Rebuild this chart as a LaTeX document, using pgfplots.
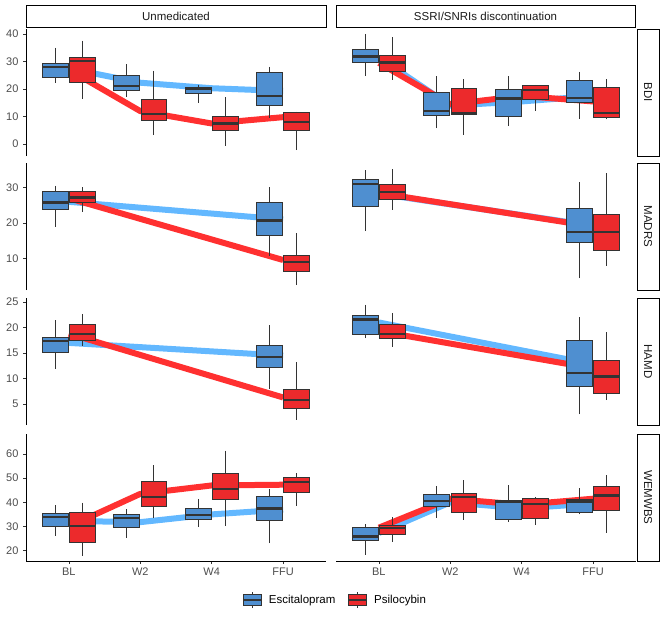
\documentclass[border=0pt]{standalone}
\usepackage{fontspec}
\setmainfont{Liberation Sans}
\usepackage{pgfplots}
\pgfplotsset{compat=1.18}
\usepgfplotslibrary{statistics}
\definecolor{boxblue}{HTML}{4F8FD0}
\definecolor{boxred}{HTML}{EC2A2C}
\definecolor{lineblue}{HTML}{63B8FF}
\definecolor{linered}{HTML}{FF3030}
\definecolor{outl}{HTML}{333333}
\definecolor{tickgray}{HTML}{4D4D4D}
\definecolor{stripgray}{HTML}{1A1A1A}

% box: draw position, lower whisker, lower quartile, median, upper quartile, upper whisker
\newcommand{\bxb}[6]{\addplot[boxplot prepared={draw position=#1, lower whisker=#2, lower quartile=#3, median=#4, upper quartile=#5, upper whisker=#6, box extend=0.36, whisker extend=0}, fill=boxblue, draw=outl, line width=0.9bp] coordinates {};}
\newcommand{\bxr}[6]{\addplot[boxplot prepared={draw position=#1, lower whisker=#2, lower quartile=#3, median=#4, upper quartile=#5, upper whisker=#6, box extend=0.36, whisker extend=0}, fill=boxred, draw=outl, line width=0.9bp] coordinates {};}

\pgfplotsset{
  panel/.style={scale only axis, width=300bp, height=127bp, xmin=0.4, xmax=4.6, clip=false,
    boxplot/draw direction=y,
    boxplot/every median/.style={line width=2.3bp},
    tick label style={font=\fontsize{11bp}{13bp}\selectfont, text=tickgray},
    yticklabel style={xshift=-1bp},
    /pgf/number format/assume math mode=true,
    major tick length=3bp, tick style={outl, line width=0.6bp},
    axis line style={black, line width=0.7bp}, tick align=outside,
    xtick={1,2,3,4}, xticklabels={BL,W2,W4,FFU}},
  lefttop/.style={panel, axis y line*=left, axis x line=none},
  leftbot/.style={panel, axis y line*=left, axis x line*=bottom},
  righttop/.style={panel, hide axis},
  rightbot/.style={panel, axis y line=none, axis x line*=bottom},
  mline/.style={line width=6bp, line join=round},
}

\begin{document}
\begin{tikzpicture}
\useasboundingbox (0,0) rectangle (664bp,-618bp);

% ---------------- Row 1: BDI ----------------
\begin{axis}[lefttop, at={(26bp,-29bp)}, anchor=north west, ymin=-4.3, ymax=41.8, ytick={0,10,20,30,40}]
\addplot[mline, lineblue] coordinates {(1,27.5) (2,22.3) (3,20.3) (4,19.3)};
\addplot[mline, linered] coordinates {(1,27) (2,12) (3,7.5) (4,9.8)};
\bxb{0.81}{22.3}{24.2}{28.1}{29.3}{35}
\bxr{1.19}{16.4}{22.5}{30.2}{31.5}{37.6}
\bxb{1.81}{17.2}{19.4}{21.1}{25}{29}
\bxr{2.19}{3.3}{8.5}{10.9}{16.2}{26.7}
\bxb{2.81}{15}{18.4}{19.9}{20.6}{21.3}
\bxr{3.19}{-0.6}{4.8}{7.5}{10.2}{17}
\bxb{3.81}{9.6}{13.9}{17.5}{25.9}{28.1}
\bxr{4.19}{-2.2}{4.8}{8}{11.4}{11.8}
\end{axis}

\begin{axis}[righttop, at={(336bp,-29bp)}, anchor=north west, ymin=-4.3, ymax=41.8]
\addplot[mline, lineblue] coordinates {(1,31.5) (2,14) (3,15.5) (4,17.5)};
\addplot[mline, linered] coordinates {(1,29.5) (2,14.5) (3,17.5) (4,15.5)};
\bxb{0.81}{24.7}{29.8}{31.8}{34.2}{40}
\bxr{1.19}{23.3}{26.5}{29.6}{32.1}{38.8}
\bxb{1.81}{5.7}{10.4}{12.1}{18.9}{24.7}
\bxr{2.19}{3.4}{10.7}{11.2}{20.1}{23.5}
\bxb{2.81}{6.5}{10.1}{16.6}{19.9}{24.6}
\bxr{3.19}{12.1}{16.2}{19.6}{21.2}{21.5}
\bxb{3.81}{9.2}{15}{16.8}{23.3}{26.3}
\bxr{4.19}{9}{9.7}{11.4}{20.5}{23.5}
\end{axis}

% ---------------- Row 2: MADRS ----------------
\begin{axis}[lefttop, at={(26bp,-163bp)}, anchor=north west, ymin=1, ymax=37, ytick={10,20,30}]
\addplot[mline, lineblue] coordinates {(1,26) (4,21)};
\addplot[mline, linered] coordinates {(1,27) (4,9.5)};
\bxb{0.81}{19}{23.7}{25.8}{28.9}{30.6}
\bxr{1.19}{23.2}{25.8}{27.2}{28.9}{30.1}
\bxb{3.81}{10.5}{16.6}{20.7}{25.9}{30.1}
\bxr{4.19}{2.4}{6.2}{9}{10.7}{17.1}
\end{axis}

\begin{axis}[righttop, at={(336bp,-163bp)}, anchor=north west, ymin=1, ymax=37]
\addplot[mline, lineblue] coordinates {(1,28.3) (4,19.2)};
\addplot[mline, linered] coordinates {(1,28.5) (4,19)};
\bxb{0.81}{17.7}{24.6}{31}{32.2}{35}
\bxr{1.19}{23.7}{26.7}{28.8}{31}{35.2}
\bxb{3.81}{4.3}{14.4}{17.5}{24.2}{31.5}
\bxr{4.19}{7.9}{12.2}{17.5}{22.5}{34.1}
\end{axis}

% ---------------- Row 3: HAMD ----------------
\begin{axis}[lefttop, at={(26bp,-298bp)}, anchor=north west, ymin=0.9, ymax=25.8, ytick={5,10,15,20,25}]
\addplot[mline, lineblue] coordinates {(1,17) (4,14.5)};
\addplot[mline, linered] coordinates {(1,18.8) (4,6.3)};
\bxb{0.81}{11.9}{15.2}{17.4}{18}{21.4}
\bxr{1.19}{16.3}{17.5}{18.7}{20.7}{22.7}
\bxb{3.81}{7.9}{12.2}{14.2}{16.4}{20.5}
\bxr{4.19}{1.9}{4.2}{5.8}{7.9}{13.3}
\end{axis}

\begin{axis}[righttop, at={(336bp,-298bp)}, anchor=north west, ymin=0.9, ymax=25.8]
\addplot[mline, lineblue] coordinates {(1,21) (4,12.8)};
\addplot[mline, linered] coordinates {(1,19.3) (4,12)};
\bxb{0.81}{17.9}{18.7}{21.6}{22.4}{24.5}
\bxr{1.19}{16.2}{17.8}{18.8}{20.7}{22.9}
\bxb{3.81}{3}{8.4}{11.1}{17.5}{22}
\bxr{4.19}{5.8}{7.1}{10.4}{13.5}{19.1}
\end{axis}

% ---------------- Row 4: WEMWBS ----------------
\begin{axis}[leftbot, at={(26bp,-434bp)}, anchor=north west, ymin=15.7, ymax=68.3, ytick={20,30,40,50,60},
  legend columns=2,
  legend style={at={(1.03,-0.307)}, anchor=center, draw=none, fill=none,
    font=\fontsize{11.5bp}{13bp}\selectfont,
    /tikz/every odd column/.append style={column sep=5bp},
    /tikz/every even column/.append style={column sep=10bp}}]
\addlegendimage{legend image code/.code={
  \draw[outl, line width=0.7bp] (9bp,-8bp) -- (9bp,8bp);
  \draw[outl, fill=boxblue, line width=0.9bp] (0bp,-5.5bp) rectangle (18bp,5.5bp);
  \draw[outl, line width=1.8bp] (0bp,0bp) -- (18bp,0bp);}}
\addlegendentry{Escitalopram}
\addlegendimage{legend image code/.code={
  \draw[outl, line width=0.7bp] (9bp,-8bp) -- (9bp,8bp);
  \draw[outl, fill=boxred, line width=0.9bp] (0bp,-5.5bp) rectangle (18bp,5.5bp);
  \draw[outl, line width=1.8bp] (0bp,0bp) -- (18bp,0bp);}}
\addlegendentry{Psilocybin}
\addplot[mline, lineblue, forget plot] coordinates {(1,32.3) (2,31.8) (3,35) (4,37)};
\addplot[mline, linered, forget plot] coordinates {(1,30) (2,43.5) (3,47) (4,47.3)};
\bxb{0.81}{26.1}{30.2}{33.8}{35.5}{38.8}
\bxr{1.19}{17.9}{23.5}{30.2}{35.9}{39.9}
\bxb{1.81}{25.4}{29.7}{33.6}{34.8}{37.2}
\bxr{2.19}{33.4}{38.2}{42.3}{48.6}{55.4}
\bxb{2.81}{29.7}{33.1}{34.8}{37.5}{41.4}
\bxr{3.19}{30.2}{41.3}{45.4}{52}{61.4}
\bxb{3.81}{23}{32.7}{37.4}{42.6}{45.5}
\bxr{4.19}{38.5}{44}{48.4}{50.4}{52}
\end{axis}

\begin{axis}[rightbot, at={(336bp,-434bp)}, anchor=north west, ymin=15.7, ymax=68.3]
\addplot[mline, lineblue] coordinates {(1,27.3) (2,40) (3,37.5) (4,39.5)};
\addplot[mline, linered] coordinates {(1,29.5) (2,41.5) (3,39) (4,41.5)};
\bxb{0.81}{18.2}{24.4}{25.8}{29.7}{31}
\bxr{1.19}{23.7}{26.8}{29.3}{30.5}{33.8}
\bxb{1.81}{33.6}{38.2}{40.6}{43.3}{46.8}
\bxr{2.19}{32.7}{35.7}{42.1}{43.7}{49.2}
\bxb{2.81}{32}{33}{40}{40.6}{47}
\bxr{3.19}{30.6}{33.4}{39.2}{41.7}{42.1}
\bxb{3.81}{35}{35.7}{40.3}{41.4}{45.8}
\bxr{4.19}{27.4}{36.8}{42.8}{46.5}{51.3}
\end{axis}

% ---------------- Facet strips ----------------
\begin{scope}[line width=0.8bp]
\draw (26bp,-5bp) rectangle (326bp,-27bp);
\node[font=\fontsize{11.5bp}{13bp}\selectfont, text=stripgray] at (176bp,-16bp) {Unmedicated};
\draw (336bp,-5bp) rectangle (635bp,-27bp);
\node[font=\fontsize{11.5bp}{13bp}\selectfont, text=stripgray] at (485.5bp,-16bp) {SSRI/SNRIs discontinuation};
\draw (637bp,-29bp) rectangle (659bp,-156bp);
\node[font=\fontsize{11.5bp}{13bp}\selectfont, text=stripgray, rotate=-90] at (648bp,-92.5bp) {BDI};
\draw (637bp,-163bp) rectangle (659bp,-290bp);
\node[font=\fontsize{11.5bp}{13bp}\selectfont, text=stripgray, rotate=-90] at (648bp,-226.5bp) {MADRS};
\draw (637bp,-298bp) rectangle (659bp,-425bp);
\node[font=\fontsize{11.5bp}{13bp}\selectfont, text=stripgray, rotate=-90] at (648bp,-361.5bp) {HAMD};
\draw (637bp,-434bp) rectangle (659bp,-561bp);
\node[font=\fontsize{11.5bp}{13bp}\selectfont, text=stripgray, rotate=-90] at (648bp,-497.5bp) {WEMWBS};
\end{scope}
\end{tikzpicture}
\end{document}
